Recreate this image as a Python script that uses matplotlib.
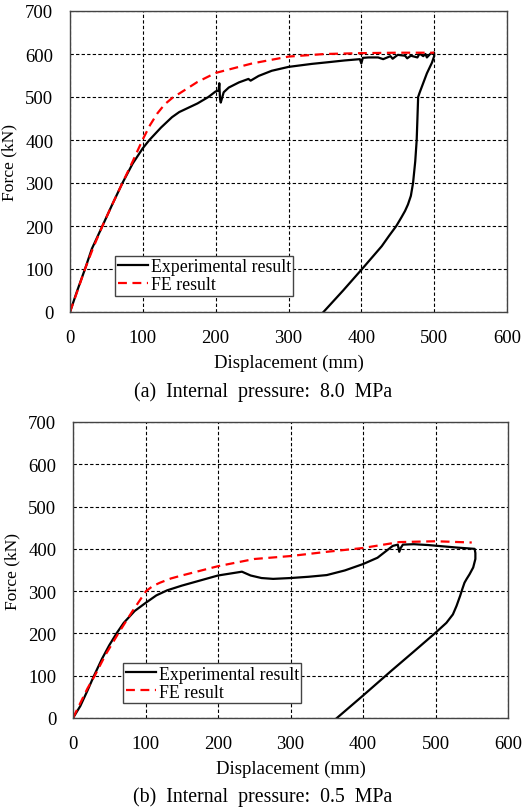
import matplotlib.pyplot as plt
import numpy as np

# (a) internal pressure 8.0 MPa
exp_a_x = [0, 10, 20.6, 30, 44.5, 58, 72, 86, 100, 109, 125, 140, 150, 175, 190, 200, 204, 205, 206, 207,
           211, 218, 232, 245, 248, 259, 277, 300, 332, 355, 377, 398, 400, 402, 410, 423, 430, 440, 443,
           450, 460, 463, 468, 477, 480, 485, 488, 490, 495, 500,
           500, 497, 490, 480, 478, 477, 476, 474, 471, 468, 464, 460, 455, 448, 438, 428, 401, 375, 348]
exp_a_y = [0, 50, 100, 147, 200, 250, 300, 345, 381, 400, 429, 453, 465, 485, 500, 513, 515, 532, 495, 487,
           511, 522, 534, 542, 538, 549, 561, 570, 577, 581, 585, 588, 578, 591, 592, 592, 588, 595, 589,
           598, 596, 590, 596, 592, 601, 595, 600, 592, 601, 603,
           595, 580, 555, 510, 500, 449, 400, 350, 300, 270, 250, 235, 220, 200, 177, 153, 100, 50, 0]
fe_a_x = [0, 10, 20.6, 32, 44.5, 58, 72, 86, 99.5, 110, 120, 130, 142, 150, 175, 200, 250, 300, 350, 400, 450, 500]
fe_a_y = [0, 48, 100, 150, 200, 250, 300, 350, 400, 435, 462, 483, 500, 508, 535, 556, 578, 594, 600, 602, 603, 603]

# (b) internal pressure 0.5 MPa
exp_b_x = [0, 10, 20, 29, 40, 50, 60, 70, 85, 100, 115, 130, 150, 175, 200, 233, 245, 260, 276,
           300, 325, 350, 375, 400, 420, 441, 448, 450, 452, 455, 470, 490, 510, 530, 554, 555, 555,
           552, 547, 543, 540, 537, 534, 529, 524, 515, 499, 470, 440, 400, 364]
exp_b_y = [0, 28, 65, 100, 140, 172, 200, 225, 253, 272, 290, 302, 313, 325, 337, 346, 337, 331, 329,
           331, 334, 338, 349, 364, 379, 407, 410, 393, 402, 410, 411, 409, 406, 403, 400, 390, 376,
           356, 340, 329, 320, 305, 289, 265, 245, 225, 200, 157, 113, 53, 0]
fe_b_x = [0, 10, 20, 30, 45, 62.5, 81, 100.7, 110, 120, 135, 150, 200, 250, 300, 350, 400, 450, 500, 550]
fe_b_y = [0, 35, 70, 100, 150, 200, 250, 300, 312, 320, 330, 337, 359, 376, 383, 393, 402, 416, 418, 415]

panels = [
    (exp_a_x, exp_a_y, fe_a_x, fe_a_y, '(a)  Internal  pressure:  8.0  MPa',
     [70/526, 1-313/812, 437/526, 301/812], (0.103, 0.053), 1-392/812),
    (exp_b_x, exp_b_y, fe_b_x, fe_b_y, '(b)  Internal  pressure:  0.5  MPa',
     [73/526, 1-719/812, 435/526, 296/812], (0.115, 0.05), 1-797/812),
]

plt.rcParams['font.family'] = 'Liberation Serif'
fig = plt.figure(figsize=(5.26, 8.12), dpi=100)

for ex, ey, fx, fy, cap, rect, leg_pos, cap_y in panels:
    ax = fig.add_axes(rect)
    ax.plot(ex, ey, color='black', lw=1.6, label='Experimental result')
    ax.plot(fx, fy, color='#ff0000', lw=1.6, ls=(0, (4, 2.5)), label='FE result')
    ax.set_xlim(0, 600)
    ax.set_ylim(0, 700)
    ax.set_xticks(range(0, 601, 100))
    ax.set_yticks(range(0, 701, 100))
    ax.grid(color='black', ls=(0, (3, 2)), lw=0.8)
    ax.tick_params(length=0, labelsize=13.5)
    ax.tick_params(axis='x', pad=12.5)
    ax.tick_params(axis='y', pad=12)
    for s in ax.spines.values():
        s.set_color('#444444')
        s.set_linewidth(1.0)
    ax.set_xlabel('Displacement (mm)', fontsize=13.5, labelpad=5)
    ax.set_ylabel('Force (kN)', fontsize=12.6)
    ax.yaxis.set_label_coords(-0.12, 0.5)
    leg = ax.legend(loc='lower left', bbox_to_anchor=leg_pos, borderaxespad=0, fontsize=12.8,
                    frameon=True, fancybox=False, framealpha=1, edgecolor='#444444',
                    handlelength=1.7, borderpad=0.15, labelspacing=0.05, handletextpad=0.15)
    leg.get_frame().set_linewidth(1.0)
    fig.text(0.5, cap_y, cap, ha='center', va='center', fontsize=14.3)

fig.savefig('out.png', dpi=100)
